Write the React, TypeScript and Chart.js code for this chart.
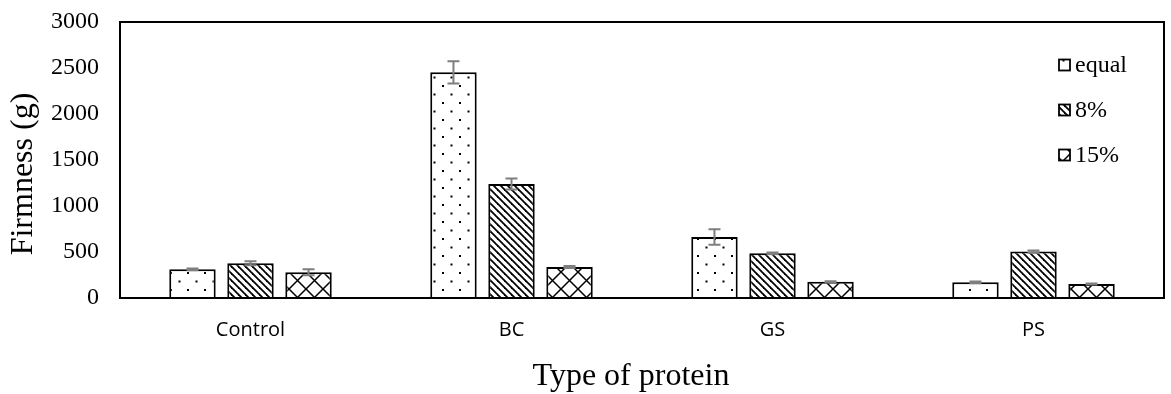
import { useEffect, useRef } from 'react';
import { Chart, registerables } from 'chart.js';

Chart.register(...registerables);

// Protein types on the x axis
const categories = ['Control', 'BC', 'GS', 'PS'];

// Series names (legend)
const seriesNames = ['equal', '8%', '15%'];

// Mean firmness (g) per protein type
const equalValues = [312, 2453, 663, 170];
const pct8Values = [378, 1240, 486, 505];
const pct15Values = [280, 337, 177, 152];

// Standard deviations for the error bars
const equalErrors = [10, 121, 85, 10];
const pct8Errors = [22, 60, 8, 12];
const pct15Errors = [33, 12, 5, 5];

// Y axis ticks
const yTickValues = [0, 500, 1000, 1500, 2000, 2500, 3000];

const SERIF = "'Liberation Serif', 'Times New Roman', serif";
const SANS = "'Open Sans', 'Noto Sans', sans-serif";

function makeTile(size: number, draw: (c: CanvasRenderingContext2D) => void): CanvasPattern {
  const tile = document.createElement('canvas');
  tile.width = size;
  tile.height = size;
  const c = tile.getContext('2d')!;
  c.fillStyle = '#ffffff';
  c.fillRect(0, 0, size, size);
  draw(c);
  return c.createPattern(tile, 'repeat')!;
}

// Sparse dotted fill
function dotPattern(): CanvasPattern {
  return makeTile(17, (c) => {
    c.fillStyle = '#000000';
    c.fillRect(0, 0, 2, 2);
    c.fillRect(8.5, 8.5, 2, 2);
  });
}

// Downward diagonal stripes
function diagPattern(): CanvasPattern {
  const s = 7;
  return makeTile(s, (c) => {
    c.strokeStyle = '#000000';
    c.lineWidth = 1.8;
    for (let k = -1; k <= 1; k++) {
      c.beginPath();
      c.moveTo(k * s - 1, -1);
      c.lineTo(k * s + s + 1, s + 1);
      c.stroke();
    }
  });
}

// Diamond cross-hatch
function crossPattern(): CanvasPattern {
  const s = 17;
  return makeTile(s, (c) => {
    c.strokeStyle = '#000000';
    c.lineWidth = 1.5;
    c.beginPath();
    c.moveTo(-1, -1);
    c.lineTo(s + 1, s + 1);
    c.moveTo(s + 1, -1);
    c.lineTo(-1, s + 1);
    c.stroke();
  });
}

export default function App() {
  const canvasRef = useRef<HTMLCanvasElement | null>(null);

  useEffect(() => {
    const canvas = canvasRef.current;
    if (!canvas) return;

    const fills = [dotPattern(), diagPattern(), crossPattern()];
    const seriesValues = [equalValues, pct8Values, pct15Values];
    const seriesErrors = [equalErrors, pct8Errors, pct15Errors];

    const extras = {
      id: 'extras',
      afterDatasetsDraw(chart: any) {
        const ctx: CanvasRenderingContext2D = chart.ctx;
        const yScale = chart.scales.y;
        const area = chart.chartArea;

        // error bars
        ctx.save();
        ctx.strokeStyle = '#7f7f7f';
        ctx.lineWidth = 2;
        seriesErrors.forEach((errs, di) => {
          const meta = chart.getDatasetMeta(di);
          meta.data.forEach((bar: any, i: number) => {
            const v = seriesValues[di][i];
            const e = errs[i];
            const yTop = yScale.getPixelForValue(v + e);
            const yBot = yScale.getPixelForValue(v - e);
            const x = bar.x;
            ctx.beginPath();
            ctx.moveTo(x, yTop);
            ctx.lineTo(x, yBot);
            ctx.moveTo(x - 6, yTop);
            ctx.lineTo(x + 6, yTop);
            ctx.moveTo(x - 6, yBot);
            ctx.lineTo(x + 6, yBot);
            ctx.stroke();
          });
        });
        ctx.restore();

        // plot frame
        ctx.save();
        ctx.strokeStyle = '#000000';
        ctx.lineWidth = 2;
        ctx.strokeRect(area.left, area.top, area.right - area.left, area.bottom - area.top);
        ctx.restore();

        // legend
        ctx.save();
        ctx.font = `24px ${SERIF}`;
        ctx.textBaseline = 'middle';
        ctx.textAlign = 'left';
        seriesNames.forEach((name, i) => {
          const cy = area.top + 43 + i * 45;
          const bx = area.right - 105;
          ctx.fillStyle = fills[i];
          ctx.fillRect(bx, cy - 5.5, 11, 11);
          ctx.strokeStyle = '#000000';
          ctx.lineWidth = 1.8;
          ctx.strokeRect(bx, cy - 5.5, 11, 11);
          ctx.fillStyle = '#000000';
          ctx.fillText(name, bx + 16, cy + 1);
        });
        ctx.restore();

        // axis titles
        ctx.save();
        ctx.fillStyle = '#000000';
        ctx.font = `32px ${SERIF}`;
        ctx.textAlign = 'center';
        ctx.textBaseline = 'alphabetic';
        ctx.fillText('Type of protein', 631, 385);
        ctx.translate(32, 174);
        ctx.rotate(-Math.PI / 2);
        ctx.font = `32px ${SERIF}`;
        ctx.fillText('Firmness (g)', 0, 0);
        ctx.restore();
      },
    };

    const chart = new Chart(canvas, {
      type: 'bar',
      data: {
        labels: categories,
        datasets: seriesNames.map((name, i) => ({
          label: name,
          data: seriesValues[i],
          backgroundColor: fills[i],
          borderColor: '#000000',
          borderWidth: 2,
          barPercentage: 0.8,
          categoryPercentage: 0.667,
        })),
      },
      options: {
        animation: false,
        responsive: false,
        devicePixelRatio: 1,
        layout: { padding: { top: 22, right: 7, left: 0, bottom: 0 } },
        plugins: {
          legend: { display: false },
          tooltip: { enabled: false },
        },
        scales: {
          x: {
            grid: { display: false, drawTicks: false },
            border: { display: true, color: '#000000', width: 2 },
            ticks: {
              color: '#000000',
              font: { family: SANS, size: 20 },
              padding: 20,
            },
            afterFit(axis: any) {
              axis.height = 96;
              axis.paddingLeft = 0;
              axis.paddingRight = 0;
            },
          },
          y: {
            min: 0,
            max: 3000,
            grid: { display: false, drawTicks: false },
            border: { display: true, color: '#000000', width: 2 },
            afterBuildTicks(axis: any) {
              axis.ticks = yTickValues.map((v) => ({ value: v }));
            },
            ticks: {
              color: '#000000',
              font: { family: SERIF, size: 24 },
              padding: 21,
              callback: (v: any) => String(v),
            },
            afterFit(axis: any) {
              axis.width = 120;
              axis.paddingTop = 0;
              axis.paddingBottom = 0;
            },
          },
        },
      },
      plugins: [extras],
    });

    return () => chart.destroy();
  }, []);

  return (
    <canvas
      ref={canvasRef}
      width={1171}
      height={394}
      style={{ position: 'absolute', left: 0, top: 0, display: 'block', background: '#ffffff' }}
    />
  );
}
